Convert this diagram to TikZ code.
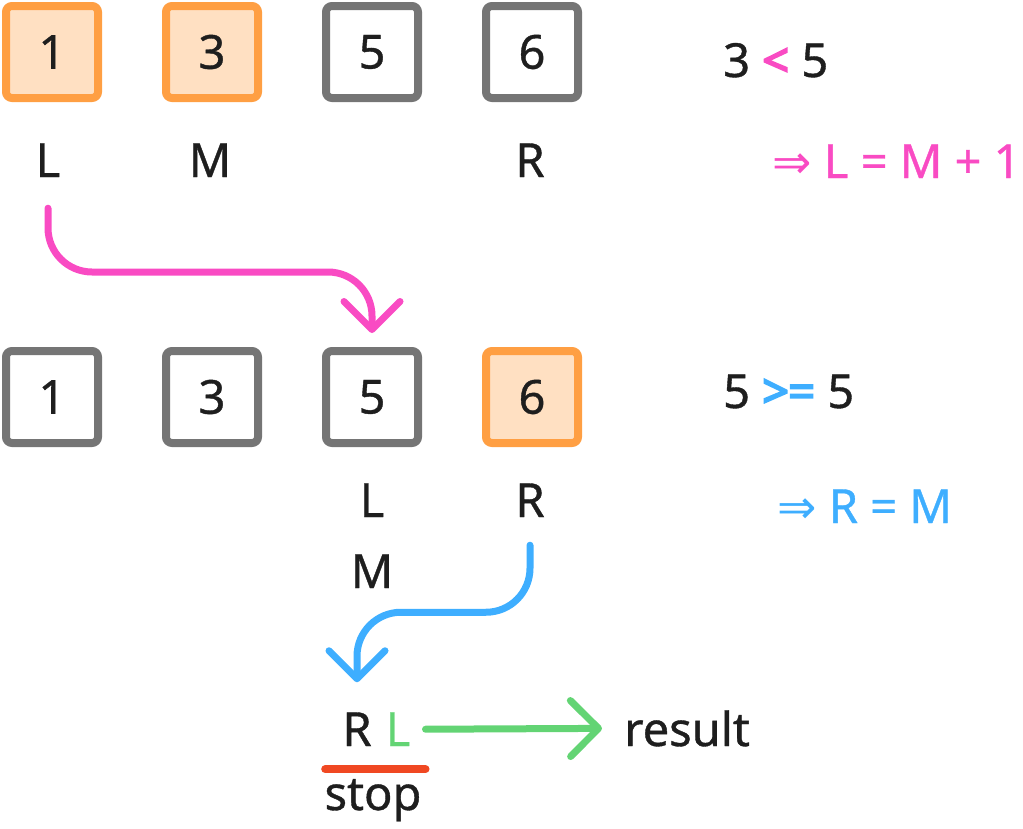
\documentclass[tikz,border=0pt]{standalone}
\usepackage{fontspec}
\setmainfont{Noto Sans}[FakeBold=0.8]
\newfontfamily\opfont{Noto Sans}[FakeBold=4]
\newfontfamily\symfont{DejaVu Sans}
\usetikzlibrary{arrows.meta,calc}
\definecolor{ink}{HTML}{1E1E1E}
\definecolor{boxgray}{HTML}{757575}
\definecolor{hlstroke}{HTML}{FF9F43}
\definecolor{hlfill}{HTML}{FFE0C2}
\definecolor{pinkc}{HTML}{F94BC3}
\definecolor{bluec}{HTML}{3EAEFF}
\definecolor{greenc}{HTML}{63D474}
\definecolor{redc}{HTML}{F04822}
\begin{document}
\begin{tikzpicture}[x=1pt,y=-1pt,
  every node/.style={font=\fontsize{47}{56}\selectfont, text=ink, inner sep=0pt},
  cell/.style={draw=boxgray, line width=8pt, rounded corners=6pt, minimum size=92pt, fill=white},
  hot/.style={cell, draw=hlstroke, fill=hlfill},
  lbl/.style={anchor=base},
  note/.style={anchor=base west},
  flow/.style={line width=7pt, line cap=round, line join=round, rounded corners=44pt,
    -{Straight Barb[length=28pt,width=56pt,line cap=round,line join=round]}},
]
\useasboundingbox (0,0) rectangle (1023,828);

% first state of the array
\node[hot]  (c11) at (52,52)  {1};
\node[hot]  (c12) at (212,52) {3};
\node[cell] (c13) at (372,52) {5};
\node[cell] (c14) at (532,52) {6};
\node[lbl] (l1) at (48,177)  {L};
\node[lbl] (m1) at (210,177) {M};
\node[lbl] (r1) at (530,177) {R};
\node[note] (cmp1) at (723,77) {3 {\opfont\color{pinkc}<} 5};
\node[note, text=pinkc] (upd1) at (772,178) {{\symfont ⇒} L = M + 1};

% second state of the array
\node[cell] (c21) at (52,397)  {1};
\node[cell] (c22) at (212,397) {3};
\node[cell] (c23) at (372,397) {5};
\node[hot]  (c24) at (532,397) {6};
\node[lbl] (l2) at (372,517) {L};
\node[lbl] (r2) at (530,517) {R};
\node[lbl] (m2) at (372,588) {M};
\node[note] (cmp2) at (723,408) {5 {\opfont\color{bluec}>\kern-1pt=} 5};
\node[note, text=bluec] (upd2) at (777,523) {{\symfont ⇒} R = M};

% final state
\node[lbl] (rb) at (357,746) {R};
\node[lbl, text=greenc] (lg) at (398,746) {L};
\node[note] (res) at (624,746) {result};
\node[lbl] (stop) at (373,810) {stop};

% moves of the pointers
\draw[flow, pinkc] ($(l1.south)+(0,31)$) |- ($(c23.north)+(0,-75)$) -- ($(c23.north)+(0,-14)$);
\draw[flow, bluec] ($(r2.south)+(0,28)$) |- ($(rb.north)+(0,-100)$) -- ($(rb.north)+(0,-30)$);
\draw[flow, greenc] ($(lg.east)+(15,0)$) -- ($(res.west)+(-22,0)$);
\draw[line width=8pt, line cap=round, redc] ($(rb.south west)+(-17,23)$) -- ($(lg.south east)+(15,23)$);
\end{tikzpicture}
\end{document}
